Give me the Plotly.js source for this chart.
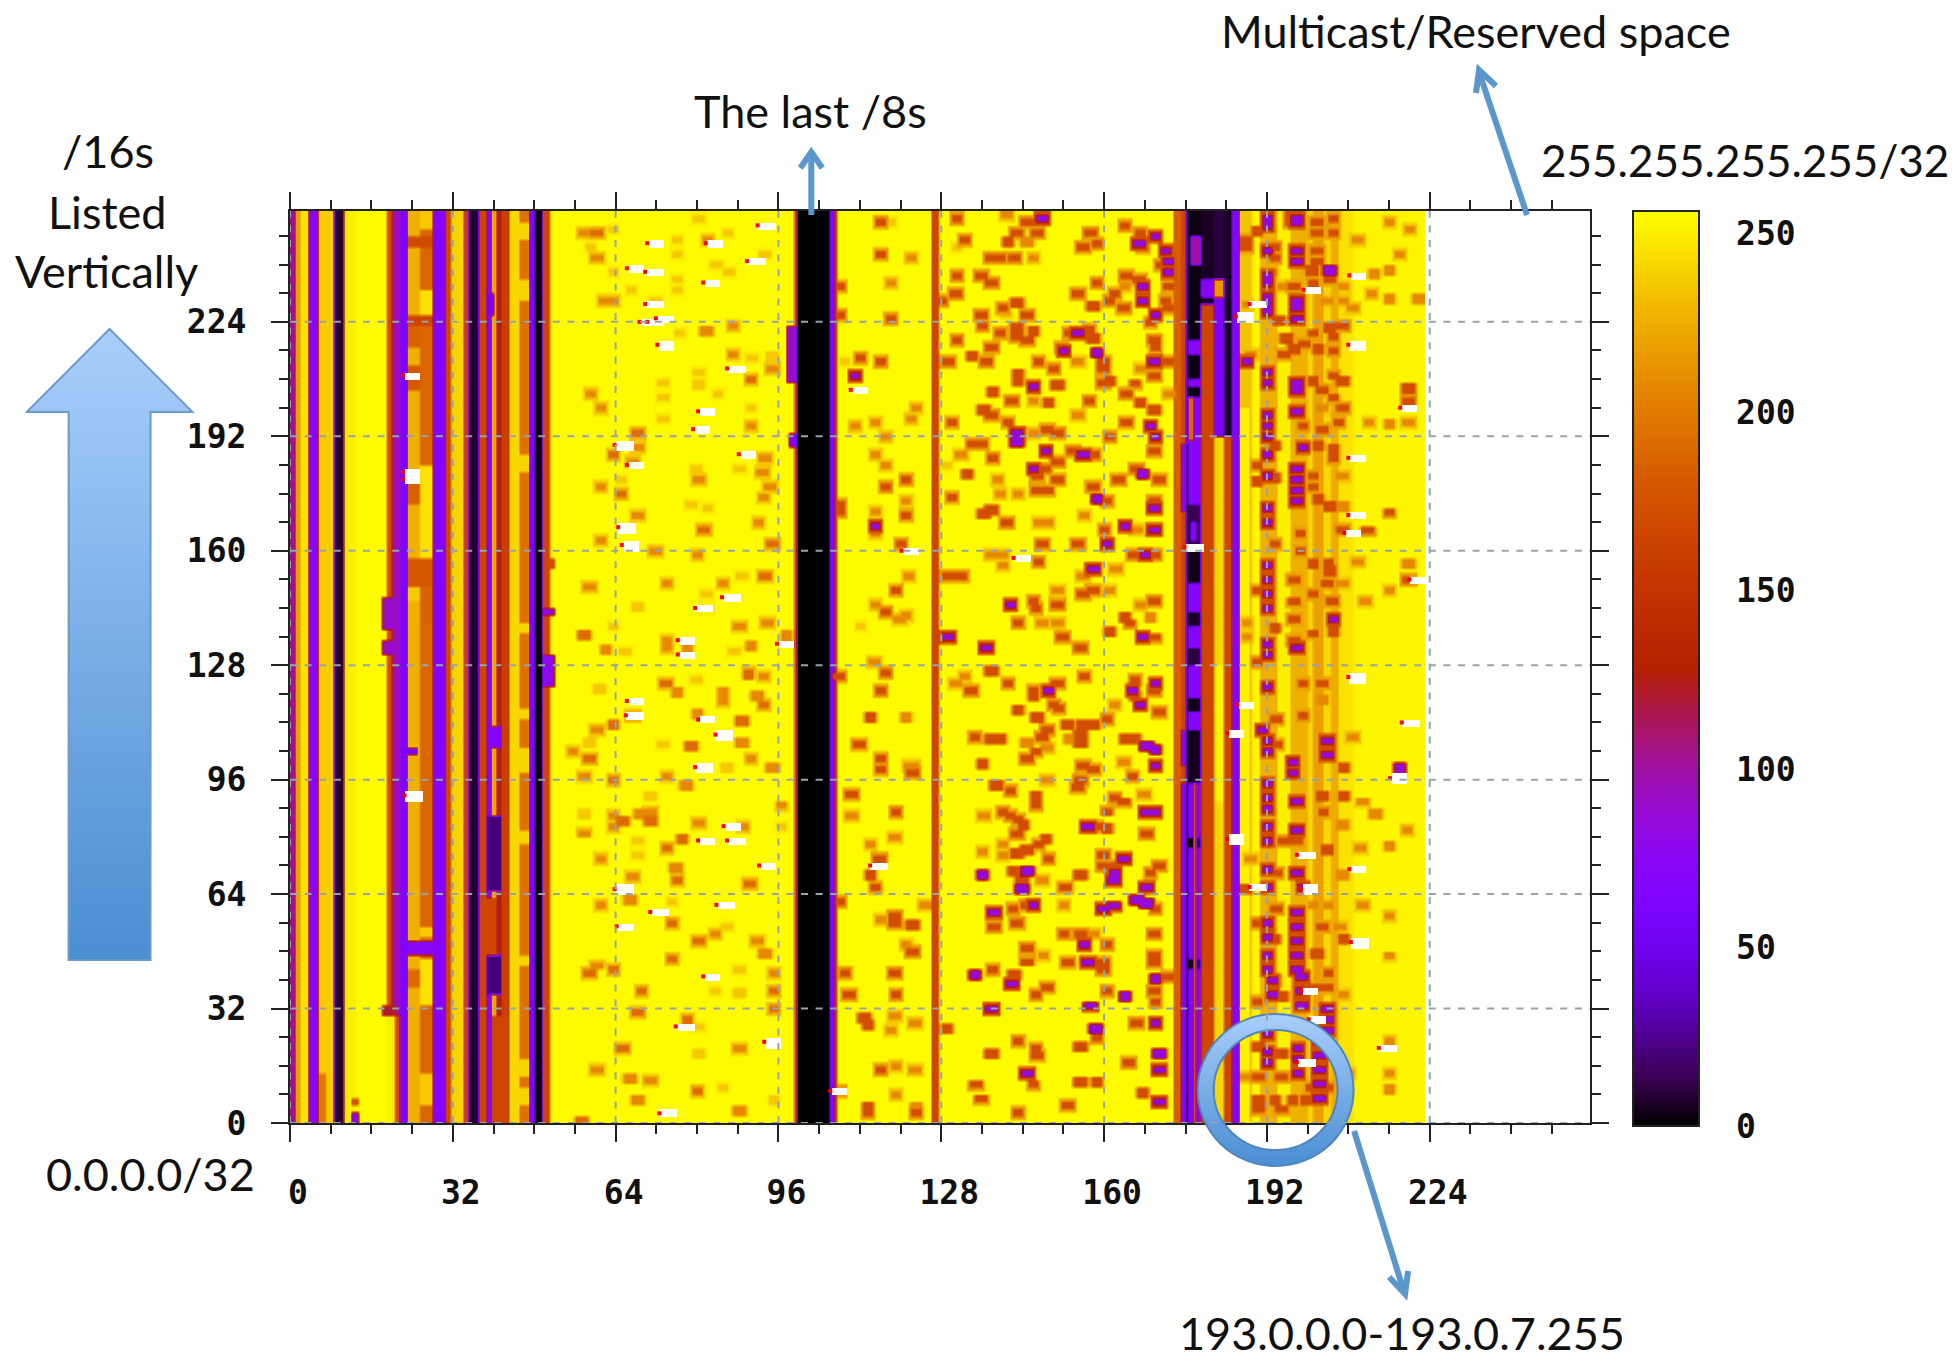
<!DOCTYPE html>
<html><head><meta charset="utf-8">
<script src="https://cdn.plot.ly/plotly-3.0.1.min.js"></script>
<style>html,body{margin:0;padding:0;background:#fff}#c{width:1954px;height:1361px}</style></head>
<body><div id="c"></div>
<script>
// ---------- chart values (x = first octet, y = second octet, z = 0..255) ----------
const majorTicks=[0,32,64,96,128,160,192,224];
const barTicks=[0,50,100,150,200,250];
// vertical stripes: start of each stripe and its value
const stripeStart=[0,0.9,1.8,3.7,5.5,8.4,10.4,13,19,20.2,21.6,23.2,25.3,28.2,30.4,31.6,34,35,36.8,38.5,39.7,40.5,41.4,43,45,46.8,48,49.5,51,98.9,99.3,105.8,107.2,107.7,125.8,127.5,173.5,174.8,176,179,181.5,183.4,185,186.4,189,190.5,194,196.5,200,201,203,204.5,206,209,222.9];
const stripeValue=[105,218,246,72,238,8,250,255,172,95,62,226,188,70,165,240,160,8,165,72,222,125,160,242,195,62,1,165,255,170,0,70,175,255,165,255,185,165,70,165,242,165,70,234,253,226,251,226,242,218,242,224,246,253,null];
// patches of a stripe: [x0,x1,y0,y1,value]
const patches=[
[25.3,28.2,250,255,236],[23.2,28.2,245,248,170],[25.3,28.2,226,233,246],[23.2,28.2,223,226,165],[23.2,25.3,217,223,185],[23.2,25.3,205,212,180],
[25.3,28.2,158,184,246],[23.2,25.3,173,183,186],[23.2,28.2,150,158,180],[25.3,28.2,140,150,186],[23.2,25.3,146,150,236],
[18,21,138,147,90],[18,21,131,135,90],[18,21,30,33,120],[19,20.3,0,30,250],[20.3,21.6,0,30,170],
[25.3,28.2,52,55,236],[23.2,28.2,47,51,75],[25.3,28.2,33,46,246],[23.2,25.3,38,43,190],[25.3,28.2,5,14,236],[21.6,25,103,105,60],
[5.5,7,0,14,200],[12,13.6,5,7,180],[12,13.4,0,3,75],
[38.5,41.4,65,86,20],[38.5,41.4,36,47,20],[38.5,41.4,105,111,65],[39.7,43,0,30,165],[36.8,40.4,47,63,165],[38.5,40,226,232,55],
[45,46.8,247,252,240],[45,46.8,230,236,240],[45,46.8,182,187,240],[45,46.8,137,140,240],[45,46.8,113,116,240],[45,46.8,98,105,240],[45,46.8,78,82,240],[45,46.8,44,47,240],[45,46.8,13,18,240],[45,46.8,5,10,240],
[49.5,52,122,131,80],[49.5,52,142,144,80],[50,52,155,158,170],[97.5,99.3,207,223,90],[98,99.3,189,193,70],
[176,179,192,255,3],[176.8,179.4,240,248,100],[179,181.5,229,255,6],[179,181.5,192,229,165],[179,181.5,231,236,70],[181.5,183.4,192,231,60],[181.5,183.4,236,255,10],[181.5,183.4,231,236,215],[183.4,185,192,255,6],
[176.5,179,215,219,75],[176.5,179,206,208,75],[176,179,191,203,5],[176.7,177.6,191,203,190],[177.6,178.8,191,203,75],
[176,179,162,173,14],[176.8,178,163,168,75],[176,179,151,162,4],[176,179,139,143,6],[176,179,128,133,10],
[176,179,115,118.6,4],[176,179,95,110,5],[176,179,77,80,4],[176,179,43.5,46,6],[177.5,178.2,0,95,175],[176,176.6,0,190,2],
[181.5,183.4,90,128,252],[174.9,176,0,95,70],[174.9,176,171,190,80],[174.9,176,100,110,80],[186.4,188.5,0,200,252]
];
// scattered cells by strength: [x,y,...]
const darkSpots=[116,252,116,243,108,234,108,226,118,225,112,214,116,213,121,180,117,178,121,170,108,171,108,173,120,162,119,149,117,143,
131,253,144.6,252,142.6,249,146.7,249,132.5,247,141,246.5,137.6,242,139.5,242,142.3,242,131,237,135.6,237,137.6,235,130.6,232,128,230,142.6,229.5,140,228,135.6,226,144.6,226,136,223,142.6,222.5,139.5,221,142.6,220,144.6,219,146,221.5,131,219,137.6,217,129.4,213,134,214.5,136.8,213,147,213,150,211,143,209.5,143,207.5,150.8,206.5,138,204.5,141.8,202,149,201.6,136.4,199.5,137.6,198,141,196,130,196,148.8,194,150.8,193,134,190,136,190,138,186,150.8,185,148.5,183,146.9,181,133,181.5,150.8,180,146.5,177,148.9,177,130,175,137.6,171.5,136.4,170.5,140.7,168,147.7,162,147,157,131.8,153,129.4,153,146,146,146.5,144,150.8,145,143,140,151.6,136,
157.4,249,155.8,245,158.5,246,164,251,167,249,167.5,245,171,240,172.5,234,164.4,237,166.7,236,158.5,235,154.6,232,162,232,161,230,157.8,228.5,163.6,228,172,230,172.5,228,169,224,153,221,157,222,157.8,219.5,151.5,217,169.8,219,170,217,159.7,213,172.5,213,159.7,211,169.8,208.8,159.7,207,161,207.5,166,206.7,164.4,204,157,202,167,201.5,169.8,199.5,164.4,196,161,192,153.9,188,157.8,187,169.8,188,166.3,183,162.8,180,170.6,180,157.8,178,160.5,174,169.8,174,160,166,154.6,162,165.5,159,169.8,159,157.8,149,155.8,148,169.8,146,164,141.6,165,139.7,161,137.6,170,135.7,
107.7,125,117,126,116,121,114,113.5,111.6,106,116,102,116,99,122.4,98,110.4,92,119,87,115.8,74,114,69.6,115,66,108,62,118.6,58,118.6,56,122.4,55.6,122.4,48,109,42,118.6,42,119,36,109.6,36,112.7,29.5,113.5,27.5,116,15,113.5,4.6,113.5,3,123,3,107.7,9,
133.7,121,137.6,126.6,141,123,146,121,150.8,123,146,119.6,156,125,155.4,133,150,117,151,116,143,115.4,146.9,113.5,152.7,111.6,155.8,111.6,157.8,111.6,160.5,113,166,124,169.8,121,166,119.6,170.6,115,148.8,110,147.7,108,134.5,108,137.6,107.4,139.5,107.6,155.4,108.4,164,107.6,166,107.6,155.4,106.5,146.5,103.7,136,100.4,144.6,102,155.8,100,157.8,99,165.5,97,155.4,95.8,154.6,94,138.7,94.4,141.5,93,146.5,91.5,146.5,89,162,91,163.6,89.7,160.5,87.3,140,87,141.5,86,143,85,144,83.6,142.6,81,158.5,83,160.5,82.4,168.3,81,147,78,148.5,79.4,144.6,76.6,142.6,75.6,149,74,159.7,75,161.6,72,159.7,72,170.6,72,142,70.5,143.8,68.6,155.4,69.6,169,70,152.3,66,144.6,61,142,60,170,60,142.6,56,138.4,55,152,53,155.4,53,169.8,53,160.5,50,144.6,49,169.8,47,169.8,44.8,144.6,45.3,152.7,45,159.7,45,138,43,142.3,41.6,159.7,43,172.5,41,169.8,37,146.5,36,148.8,38,160.5,37,170,34,158.5,23.7,166.3,28,129,26.6,146.5,21,146.9,19,137.6,19.6,143,23,155.4,21.5,164.6,17,146,10.7,155.4,11.6,158.5,11.6,134.9,10.7,135.6,6.7,167.5,8.4,152.7,5,143,2.8,
187.7,247,187.7,245,190,249.4,193.5,245,193.5,242,196.6,254,196.6,252,201.6,252,201.6,249,201.6,244,201.6,241,205,253,205,249,200.9,238.6,201,235.3,204.3,236,197.4,234,194.3,224.4,204.3,222.5,206.7,223,201,220.7,205,219.7,195.8,219.6,199.3,218,197.4,216.6,202,216.6,205,215.9,195.4,215,205,209.3,206.7,207.4,201,207.4,202.8,205,205,202.7,206.7,200,219.9,205.6,219.9,202,206,196,202.8,194,199,195,193.5,189.5,202,189.5,205,188.6,205,186,190,184,190,179.6,193.5,180.6,201,181,201,177.7,204.3,172.5,202,174.4,216,170.7,206.7,166,211.7,165.7,198.5,165,193.5,162,198.5,159.8,201,156.5,204,156.5,204.3,154.6,219.9,152,197.4,152,203.6,151,190,149,197.4,145.7,201,148,204.7,146,197.4,141,193.5,138.6,201,136.7,205,137.6,197.4,135,
190,129,199,123,199,114,202.8,123,194,106,193.9,113,207,99.5,202.8,91.5,203,87,207,91.5,203.6,76.6,195.4,79,197.8,79,194,70,187.7,65.6,193.9,60,190.4,56,202.8,55,193.5,51.4,201.6,47.6,207,51.4,204,42,201.6,38,204,38,193.5,40,195,35.5,190,34,190.4,21.5,194.6,19.6,194.6,13,190.4,13,190.4,6.5,193.5,6.5,197,6.5,199.7,6.5,194.6,3.7,190.4,3.7,200.5,10,204,10,204,19.6];
const strongSpots=[60.4,249,90.5,208,68.4,193,63.5,187,94.7,162,57.6,136.6,90,125.6,73.7,123,67.4,114,63.5,111.6,88.8,112.6,63.5,96,65.3,84.6,77,79.4,74,77,76,68,75,56,75,46,58.6,42,95,32,68.4,31,65.3,21,80,9,57.4,0.5,93,117,90.2,67,63.5,43,95,37,65,176,81.4,166,93.4,153,90,126,58.6,102,78.6,105.6,80.4,51,69,37,78,29,70.6,84.5];
const midSpots=[57.6,249,60.4,242,61.8,230,63.5,230,82,247,81.8,221.6,87,223,87,215,94.7,211,59,204,61,200,90.5,195,68.4,189,67.4,185,80.4,180,93.4,186,92.7,182,94.4,178,93,175,61,178,68.4,170,92,168,61,163,71.6,160,80,159,74,151,85,151,58.6,150,88.4,139,93.7,140,97.5,136.6,74,135,
62,132.6,74,133,78,133.6,90.5,133.6,93,125,76,120.5,85,120.5,85,118,91.6,119.6,80,114.4,60.4,110,55.5,104,88.8,106.5,90.5,102,94.7,99.5,57.6,97,74,97,77.6,94.4,70.6,87,68.5,86.4,63.5,86,57.6,81.3,63.5,83,80.4,84,89,83,96.5,88.7,61,74,75.8,71.5,67.4,69,66.7,62.6,61,61,83.5,53,93.4,47.6,91.6,51,60.4,44.3,95,42,88.4,21,60.4,15,66.7,12.6,70.6,12,68.4,6.4,88.4,3.6,
118,235,122,242,123,200,122,197,115,196,111,195,117,192,115,187,117,184,121,174,115,171,115,165,121.5,153,115,145,121,142,119.7,141,
146,242,144.6,246.5,140.7,254,146,202,146,193,131.8,187,139,180,143,176,139.5,176,149,168,147,168,137.6,159,140,159,140,156,150.8,149,147.7,140,150.8,140,
154.6,213,167,211,154.6,198,172.7,204,164,234,156,170,166.3,166,155.8,153,162.4,155,161,149,167,145,169,141.6,
114.7,129,130.6,123,132.5,125,121,113.5,121.7,100,110.4,86,118.6,80,114,78,122.4,100,124.8,61,121,50,116,57,118.6,30,118,26,122.8,28,119,16,122.8,15,119,8,123,4.6,
162,117,153,107.4,144.6,106.5,148.8,105,163.6,101,148.8,96,167.9,92,136.4,86,140,78,136,76,140,74.7,147.7,68,152,61,157.8,53,148,47,
195,234,207,234,193,238,203.6,230,207,230,208.6,228,188,229,188.8,215,202.8,200,212,196,216,195.6,219.9,196,201,181,206.7,181,206.7,172.5,209.8,157,219.9,156.5,206.7,151,211.3,146,188,140,188,136,216,149,209.8,247,216,252,220,250,218,243,216,238.6,213,237.6,216,230.6,221.8,230.6,212.5,232,
202.8,118.6,208.6,108,210.6,89.7,213.3,86.4,206.7,83.6,210.2,77,188.8,73.8,206.7,69.6,201,61,204,61,210.6,61,206.3,55,207,36,187.7,13,208,14,216,14,216,9.6,216,23,216,46.7,216,58,219.5,82,216,77.6];
const paleSpots=[59,245,63.5,250,63.5,238,67,233,71.6,230,76,247,76,243,76,236,76,233,80.4,253,83.6,240,86.4,238,93.4,243,86,249,76.5,221,90.8,214,94.7,214.6,80.4,210,80.4,206.6,84,204,73.4,207,73.4,203,73.4,197,90.5,200,79.7,183,88.4,183,65,180,78.6,173,82,172,88.8,153,81.8,148,68.4,144.5,81.8,144,63.5,139,
65.6,132,87.4,132,79.7,124,60.7,121.4,58.6,106.5,73.4,106,85.6,99.5,70.6,91.6,57.6,86.4,96.5,83,68.4,79,68.4,75,75,62,85.6,55,88.4,43,83.5,37,88.4,36.4,80.4,27,80.4,19.6,85,10,95,6.4,112,139,118,252,131,245,140.7,226,129,184,109,213];
const violetSpots=[111,209,115,167,
147.7,253,146,206,142.6,193,142.6,190.5,148.5,188,146,183,141.5,145,129.4,136,
170,248,166.7,246,172,244,172.5,241,172.5,238,167.5,234,167.5,230,170,226,154.6,221,152,216,158.5,215.5,169.8,213,169,195,170,192,155.8,187,167.5,181.5,158.5,174.5,169.8,172,169.8,166,164,167,160.5,162,168,159,157.8,155,167.5,136,
136.8,133,149,121,167,117,165.5,121,170,123,168.3,105.6,170,104.6,170,100,168.3,87,170,87,156.6,83,163.6,73.8,136,69.6,144.6,70.5,162,70,161.6,68,168.3,66,143.8,65.6,166.3,62.6,168.3,61.6,146,61,159.7,60,161.6,60.7,138.4,59,156,50,156.6,45,134.5,41.6,141.9,39,170,40.6,164,35.5,137.6,32,157.4,32.7,170,28,158.2,26.6,170.6,19.6,170.6,15,144.6,14,170.6,6,
192,253,192,251,192,244,192,237,192,235,192,231,192,229,192,227,192,210,192,207,192,198,192,195,192,192,192,187,192,181,192,172,192,168,192,156,192,152,192,148,192,144,192,134,192,131,192,122,191,110,192,107,192,104,192,95,192,91,192,88,192,83,192,79,192,71,192,66,192,56,192,52,192,47,192,43,193,40,193,36,192,25,192,20,192,17,
197.8,253,197.8,252,197.8,244,197.8,241,197.8,230,197.8,228,197.8,225,197.8,207,197.8,205,197.8,199,199,189,197.8,183,197.8,180,197.8,177,197.8,174,197.8,133,197,101,197,98,197.8,90,197.8,82,197.8,70,199,66,197.8,59,197.8,55,197.8,51,197.8,47,197.8,43,198.6,41,198.6,37,198.6,33,198,21,198,18,198,14,
203.6,32,203.6,29,203.6,26,202.4,23,202.4,19,202.4,15,202.4,11,202.4,7,204.3,238.6,188,213,205,141,203.6,107,203.6,103,218,99.5];
// blank cells (white with a red edge in the picture): [x,y,...]
const blankCells=[93.7,251,72,246,68,239,71.6,238,83,235,83.5,246,91.6,241,71.6,229,72,224,70.5,224,73.7,225,74,217.6,87.7,211,82,199,81,194,65.6,189.6,90,187,68,184,66.3,166.6,67,161.6,86.7,147,81.4,144,78,135,97.5,134,
78,131,68,118,67.8,114,82,112.8,85.4,108.6,81.4,99.5,87,83,82,79,87.7,79,94,72,65.6,65.4,85.6,61,72.6,59,66,55,83,41,77.6,27,95,22.7,74.4,2.7,24.3,91.6,24,209,24,182,24,180,
112,205,122,160,144,158,187.7,225.5,190.4,229,201,233,209.8,217.6,210,237,209.8,186,209.8,170,209,165,220,200,221.8,152,177.6,161,
188,117,186,109,209.8,124.7,186,79.4,199.7,75,210,71,190.4,66,200.5,65.4,210.3,50.6,115.8,72,108,9,220.3,112,218,96.4,200.5,37,202,29,215.8,21,199.7,17];
// palette: value fraction -> r,g,b
const paletteStops=[[0,0,0,0],[.05,57,0,79],[.1,81,0,150],[.15,99,1,206],[.2,114,2,242],[.25,128,4,255],[.3,140,7,242],[.35,151,11,206],[.4,161,16,150],[.45,171,23,79],[.5,180,32,0],[.6,198,55,0],[.7,213,87,0],[.8,228,131,0],[.9,242,186,0],[1,255,255,0]];

// ---------- build the grid (half-unit columns, one-unit rows) ----------
const xs=[],ys=[];for(let i=0;i<511;i++)xs.push(i/2+.25);for(let j=0;j<255;j++)ys.push(j+.5);
const z=ys.map(()=>xs.map(x=>{let k=0;while(k+1<stripeStart.length&&stripeStart[k+1]<=x)k++;return stripeValue[k];}));
function paint(x0,x1,y0,y1,v,onlyDarken){for(let j=0;j<ys.length;j++){if(ys[j]<y0||ys[j]>y1)continue;for(let i=0;i<xs.length;i++){if(xs[i]<x0||xs[i]>x1)continue;if(z[j][i]===null)continue;if(onlyDarken&&z[j][i]<=v)continue;z[j][i]=v;}}}
patches.forEach(p=>paint(p[0],p[1],p[2],p[3],p[4]));
// a cell and its soft rim, as the enlarged picture shows them
function spots(list,v,rim){for(let n=0;n<list.length;n+=2){const a=list[n],b=list[n+1];paint(a-1.7,a+1.7,b-1.7,b+1.7,rim,true);paint(a-1.15,a+1.15,b-1.15,b+1.15,v);}}
spots(paleSpots,236,250);spots(midSpots,208,236);spots(strongSpots,192,230);spots(darkSpots,172,218);spots(violetSpots,85,172);
const redX=[],redY=[];
for(let n=0;n<blankCells.length;n+=2){paint(blankCells[n]-1.7,blankCells[n]+1.7,blankCells[n+1]-1.2,blankCells[n+1]+1.2,null);redX.push(blankCells[n]-1.8);redY.push(blankCells[n+1]);}
const scale=paletteStops.map(s=>[s[0],`rgb(${s[1]},${s[2]},${s[3]})`]);

// ---------- page geometry helpers for the slide decorations ----------
const L=289.5,R=1590,T=211,B=1123,BarBottom=1126,BarMax=256.4;
const px=v=>(v-L)/(R-L),py=v=>(B-v)/(B-T);
const blue='#5b96cc';
function line(pts,col,w){return {type:'path',xref:'paper',yref:'paper',path:'M'+pts.map(p=>px(p[0])+' '+py(p[1])).join('L'),line:{color:col,width:w},layer:'above'};}
const gridCol='#9aa3aa';
const shapes=[];
majorTicks.forEach(t=>{shapes.push({type:'line',xref:'x',yref:'y',x0:t,x1:t,y0:0,y1:255,line:{color:gridCol,width:2,dash:'7px,7.6px'},layer:'above'});
 shapes.push({type:'line',xref:'x',yref:'y',x0:0,x1:255.5,y0:t,y1:t,line:{color:gridCol,width:2,dash:'7px,7.6px'},layer:'above'});});
barTicks.forEach(t=>{const yy=BarBottom-(BarBottom-T)*t/BarMax;if(t>0){shapes.push(line([[1634,yy],[1647,yy]],'#222',2));shapes.push(line([[1686,yy],[1699,yy]],'#222',2));}});
shapes.push(line([[1527,215],[1479,72]],blue,6),line([[1476,93],[1479,70],[1496,86]],blue,6));
shapes.push(line([[811,215],[811,154]],blue,6),line([[800,168],[811,152],[822,168]],blue,6));
shapes.push(line([[1354,1131],[1404,1292]],blue,6),line([[1389,1277],[1405,1294],[1408,1271]],blue,6));

const grad='<linearGradient id="g" x1="0" y1="0" x2="0" y2="1"><stop offset="0" stop-color="#a9cefb"/><stop offset="1" stop-color="#4a8ed2"/></linearGradient>';
const arrowSvg=`<svg xmlns="http://www.w3.org/2000/svg" width="170" height="640" viewBox="0 0 170 640"><defs>${grad}</defs><path d="M83 2L166 85H124V633H42V85H0Z" transform="translate(1 0)" fill="url(#g)" stroke="#6c9bc9" stroke-width="2"/></svg>`;
const ringSvg=`<svg xmlns="http://www.w3.org/2000/svg" width="160" height="156" viewBox="0 0 160 156"><defs>${grad}</defs><path fill-rule="evenodd" d="M2 78a78 76 0 1 0 156 0a78 76 0 1 0 -156 0ZM18 78a62 60 0 1 1 124 0a62 60 0 1 1 -124 0Z" fill="url(#g)" stroke="#4f86be" stroke-width="2"/></svg>`;
const uri=s=>'data:image/svg+xml;base64,'+btoa(s);
const images=[
 {source:uri(arrowSvg),xref:'paper',yref:'paper',x:px(25),y:py(327),sizex:170/(R-L),sizey:640/(B-T),xanchor:'left',yanchor:'top',sizing:'stretch',layer:'above'},
 {source:uri(ringSvg),xref:'paper',yref:'paper',x:px(1195.5),y:py(1012),sizex:160/(R-L),sizey:156/(B-T),xanchor:'left',yanchor:'top',sizing:'stretch',layer:'above'}
];
const note=(text,x,y,size)=>({text,xref:'paper',yref:'paper',x:px(x),y:py(y),xanchor:'center',yanchor:'middle',showarrow:false,font:{family:'Lato, sans-serif',size:size||45,color:'#111'}});
const annotations=[note('Multicast/Reserved space',1476,31),note('The last /8s',810,111),note('255.255.255.255/32',1745,160,44),note('/16s',107,151),note('Listed',106,212),note('Vertically',106,271),note('0.0.0.0/32',150,1174),note('193.0.0.0-193.0.7.255',1402,1333)];

const tickFont={family:'"DejaVu Sans Mono", monospace',size:33,color:'#111',weight:'bold'};
const axisBase={tickmode:'array',tickvals:majorTicks,ticktext:majorTicks.map(String),ticks:'outside',ticklen:17,tickwidth:2,tickcolor:'#222',showline:true,linecolor:'#222',linewidth:2,mirror:'ticks',showgrid:false,zeroline:false,tickfont:tickFont,
 minor:{tick0:0,dtick:8,ticks:'outside',ticklen:9,tickwidth:2,tickcolor:'#222',showgrid:false}};
Plotly.newPlot('c',[
 {type:'heatmap',x:xs,y:ys,z:z,zmin:0,zmax:BarMax,zsmooth:'best',colorscale:scale,hoverongaps:false,
  colorbar:{x:(1633-L)/(R-L),xanchor:'left',xpad:0,ypad:0,y:(B-BarBottom)/(B-T),yanchor:'bottom',len:(BarBottom-T)/(B-T),lenmode:'fraction',thickness:66,thicknessmode:'pixels',outlinecolor:'#222',outlinewidth:2,tickmode:'array',tickvals:barTicks,ticktext:barTicks.map(String),ticks:'outside',ticklen:30,tickwidth:1,tickcolor:'rgba(0,0,0,0)',tickfont:tickFont}},
 {type:'scatter',mode:'markers',x:redX,y:redY,marker:{symbol:'square',size:4,color:'#ff0000'},hoverinfo:'skip',showlegend:false}
],{
 width:1954,height:1361,margin:{l:L,r:1954-R,t:T,b:1361-B,pad:0},paper_bgcolor:'#fff',plot_bgcolor:'#fff',showlegend:false,
 xaxis:Object.assign({},axisBase,{range:[0,255.5],ticklabelstandoff:22,ticklabelshift:8}),
 yaxis:Object.assign({},axisBase,{range:[0,255],ticklabelstandoff:18}),
 shapes,images,annotations
},{displayModeBar:false,staticPlot:true});
</script></body></html>
